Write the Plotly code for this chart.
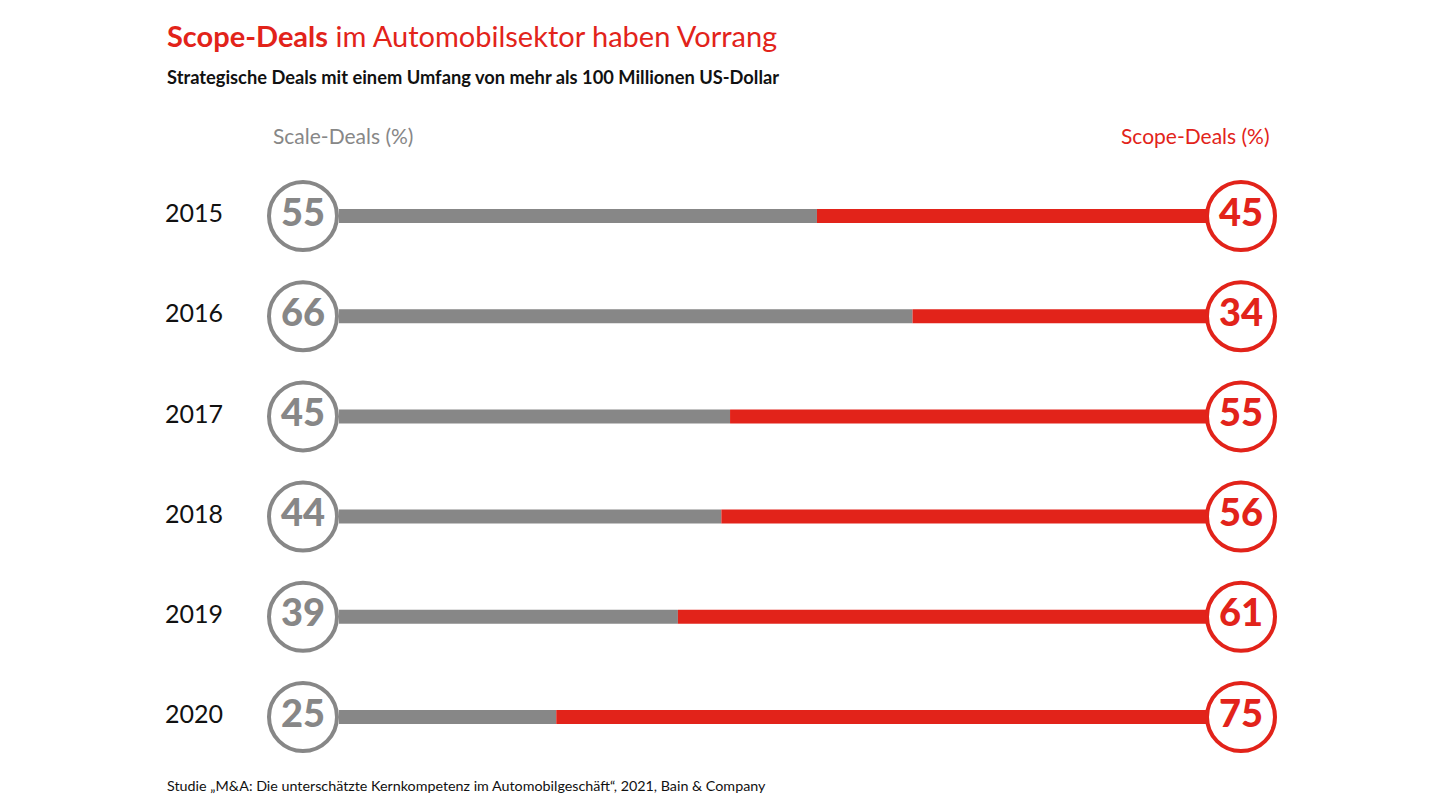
import plotly.graph_objects as go

years = ["2015", "2016", "2017", "2018", "2019", "2020"]
scale_deals = [55, 66, 45, 44, 39, 25]
scope_deals = [45, 34, 55, 56, 61, 75]

GRAY = "#878787"
RED = "#E2231A"
FONT = "Lato"

W, H = 1440, 810
OFF = 8  # page body margin
x0_px, x100_px = 339 - OFF, 1208 - OFF
ppu = (x100_px - x0_px) / 100.0
xr = [-x0_px / ppu, (W - x0_px) / ppu]
row0_px, row_step = 213 - 5, 100.2
yr = [(H - row0_px) / row_step, -row0_px / row_step]

idx = list(range(len(years)))
left_c = (303 - OFF - x0_px) / ppu
right_c = (1241 - OFF - x0_px) / ppu
year_x = (165 - OFF - x0_px) / ppu

fig = go.Figure()
fig.add_trace(go.Bar(orientation="h", y=idx, x=scale_deals, base=[0] * len(idx),
                     width=0.14, marker=dict(color=GRAY, line=dict(width=0)),
                     hoverinfo="skip"))
fig.add_trace(go.Bar(orientation="h", y=idx, x=scope_deals, base=scale_deals,
                     width=0.14, marker=dict(color=RED, line=dict(width=0)),
                     hoverinfo="skip"))
fig.add_trace(go.Scatter(x=[left_c] * len(idx), y=idx, mode="markers+text",
                         text=[str(v) for v in scale_deals], textposition="middle center",
                         textfont=dict(family=FONT, size=38, color=GRAY, weight=900),
                         marker=dict(size=68, color="white", line=dict(color=GRAY, width=4)),
                         hoverinfo="skip"))
fig.add_trace(go.Scatter(x=[right_c] * len(idx), y=idx, mode="markers+text",
                         text=[str(v) for v in scope_deals], textposition="middle center",
                         textfont=dict(family=FONT, size=38, color=RED, weight=900),
                         marker=dict(size=68, color="white", line=dict(color=RED, width=4)),
                         hoverinfo="skip"))
fig.add_trace(go.Scatter(x=[year_x] * len(idx), y=idx, mode="text",
                         text=years, textposition="middle right",
                         textfont=dict(family=FONT, size=25, color="#111111"),
                         hoverinfo="skip"))

def px(x): return (x - OFF) / W
def py(y): return 1 - (y - OFF) / H

anns = [
    dict(x=px(165), y=py(36), text="<b>Scope-Deals</b> im Automobilsektor haben Vorrang",
         font=dict(family=FONT, size=29, color=RED), xanchor="left", yanchor="middle"),
    dict(x=px(165), y=py(77), text="<b>Strategische Deals mit einem Umfang von mehr als 100 Millionen US-Dollar</b>",
         font=dict(family=FONT, size=18.3, color="#111111"), xanchor="left", yanchor="middle"),
    dict(x=px(271), y=py(136), text="Scale-Deals (%)",
         font=dict(family=FONT, size=21, color=GRAY), xanchor="left", yanchor="middle"),
    dict(x=px(1272), y=py(136), text="Scope-Deals (%)",
         font=dict(family=FONT, size=21, color=RED), xanchor="right", yanchor="middle"),
    dict(x=px(165), y=py(785), text="Studie „M&A: Die unterschätzte Kernkompetenz im Automobilgeschäft“, 2021, Bain & Company",
         font=dict(family=FONT, size=14.3, color="#111111"), xanchor="left", yanchor="middle"),
]
for a in anns:
    a.update(xref="paper", yref="paper", showarrow=False)

fig.update_layout(
    width=W, height=H, margin=dict(l=0, r=0, t=0, b=0),
    paper_bgcolor="white", plot_bgcolor="white",
    showlegend=False, barmode="overlay",
    xaxis=dict(range=xr, visible=False, fixedrange=True),
    yaxis=dict(range=yr, visible=False, fixedrange=True),
    annotations=anns,
)
fig.write_html("out.html")
